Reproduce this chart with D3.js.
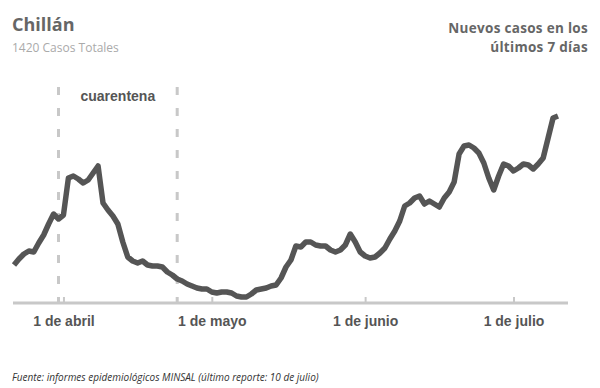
<!DOCTYPE html>
<html>
<head>
<meta charset="utf-8">
<script src="https://cdn.jsdelivr.net/npm/d3@7"></script>
<style>
	body { margin: 0; background: #fff; }
	svg { display: block; }
</style>
</head>
<body>
<svg class="display"></svg>
<script>
//data: new cases in the last 7 days, one value per day from 22 march
const startDate = new Date(2020, 2, 22);
const newCases = [
	38, 44, 49, 52, 51, 60, 68, 79, 89, 84,
	88, 125, 127, 124, 120, 123, 130, 137, 100, 93,
	87, 79, 61, 46, 42, 40, 42, 38, 37, 37,
	36, 31, 28, 24, 22, 19, 17, 15, 14, 14,
	11, 10, 11, 11, 10, 7, 6, 6, 9, 13,
	14, 15, 17, 18, 25, 36, 43, 57, 56, 61,
	61, 58, 57, 57, 53, 51, 53, 58, 69, 61,
	51, 47, 45, 46, 50, 55, 64, 72, 82, 97,
	100, 105, 107, 99, 102, 99, 96, 105, 111, 121,
	149, 157, 158, 155, 150, 140, 125, 113, 127, 139,
	137, 132, 135, 139, 138, 134, 139, 145, 165, 185,
	187
];
const tickDates = [new Date(2020, 3, 1), new Date(2020, 4, 1), new Date(2020, 5, 1), new Date(2020, 6, 1)];
const tickLabels = ['1 de abril', '1 de mayo', '1 de junio', '1 de julio'];
const quarantineDates = [new Date(2020, 2, 31), new Date(2020, 3, 24)];

const data = newCases.map((v, i) => [d3.timeDay.offset(startDate, i), v]);

//define area of graph
const totalWidth = 600,
	totalHeight = 388,
	baseline = 303;

const xScale = d3
	.scaleTime()
	.domain([startDate, data[data.length - 1][0]])
	.range([14, 558]);

const yScale = d3.scaleLinear().domain([0, 200]).range([baseline, 103]);

const display = d3
	.select('.display')
	.attr('width', totalWidth)
	.attr('height', totalHeight);

//quarantine markers
display
	.append('g')
	.selectAll('line')
	.data(quarantineDates)
	.enter()
	.append('line')
	.attr('x1', (d) => xScale(d))
	.attr('x2', (d) => xScale(d))
	.attr('y1', 87)
	.attr('y2', baseline)
	.attr('stroke', '#c8c8c8')
	.attr('stroke-width', 3)
	.attr('stroke-dasharray', '8,13');

display
	.append('text')
	.attr('x', (xScale(quarantineDates[0]) + xScale(quarantineDates[1])) / 2)
	.attr('y', 101)
	.attr('text-anchor', 'middle')
	.style('font-family', 'Liberation Sans, Arial, sans-serif')
	.style('font-weight', 'bold')
	.style('font-size', '14px')
	.attr('fill', '#555')
	.text('cuarentena');

//x axis
const xAxis = d3
	.axisBottom(xScale)
	.tickValues(tickDates)
	.tickFormat((d, i) => tickLabels[i])
	.tickSize(-6)
	.tickPadding(13);

const axisG = display
	.append('g')
	.attr('id', 'x-axis')
	.attr('transform', 'translate(0,' + baseline + ')')
	.call(xAxis);

axisG.select('.domain').remove();
axisG
	.insert('line', ':first-child')
	.attr('x1', 13)
	.attr('x2', 568)
	.attr('stroke', '#c8c8c8')
	.attr('stroke-width', 3);
axisG.selectAll('.tick line').attr('stroke', '#c8c8c8').attr('stroke-width', 2);
axisG
	.selectAll('.tick text')
	.style('font-family', 'Liberation Sans, Arial, sans-serif')
	.style('font-weight', 'bold')
	.style('font-size', '14px')
	.attr('fill', '#555');

//the line
const line = d3
	.line()
	.x((d) => xScale(d[0]))
	.y((d) => yScale(d[1]));

display
	.append('path')
	.datum(data)
	.attr('d', line)
	.attr('fill', 'none')
	.attr('stroke', '#555')
	.attr('stroke-width', 5.5)
	.attr('stroke-linejoin', 'round');

//titles
display
	.append('text')
	.attr('x', 12)
	.attr('y', 31)
	.style('font-family', 'Open Sans, sans-serif')
	.style('font-weight', 'bold')
	.style('font-size', '18px')
	.attr('fill', '#666')
	.text('Chillán');

display
	.append('text')
	.attr('x', 12)
	.attr('y', 52)
	.style('font-family', 'Open Sans, sans-serif')
	.style('font-size', '12px')
	.attr('fill', '#aaa')
	.text('1420 Casos Totales');

//two lines of the right title, kept as separate texts
const rightTitle = ['Nuevos casos en los', 'últimos 7 días'];
display
	.append('g')
	.selectAll('text')
	.data(rightTitle)
	.enter()
	.append('text')
	.attr('x', 588)
	.attr('y', (d, i) => 33 + i * 18.5)
	.attr('text-anchor', 'end')
	.style('font-family', 'Open Sans, sans-serif')
	.style('font-weight', 'bold')
	.style('font-size', '13.5px')
	.style('letter-spacing', '0.3px')
	.attr('fill', '#666')
	.text((d) => d);

//source
display
	.append('text')
	.attr('x', 12)
	.attr('y', 381)
	.style('font-family', 'Open Sans, sans-serif')
	.style('font-style', 'italic')
	.style('font-size', '10px')
	.attr('fill', '#333')
	.text('Fuente: informes epidemiológicos MINSAL (último reporte: 10 de julio)');
</script>
</body>
</html>
